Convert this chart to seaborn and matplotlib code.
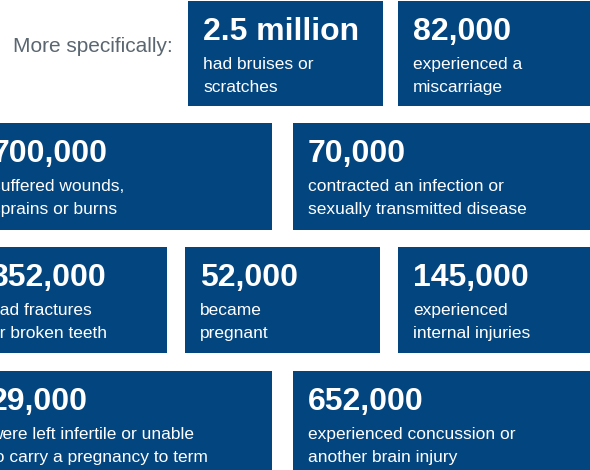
import matplotlib
matplotlib.use("Agg")
import matplotlib.pyplot as plt
import seaborn as sns

# Values shown in each tile
numbers = ["2.5 million", "82,000",
           "700,000", "70,000",
           "352,000", "52,000", "145,000",
           "29,000", "652,000"]
descriptions = [["had bruises or", "scratches"],
                ["experienced a", "miscarriage"],
                ["suffered wounds,", "sprains or burns"],
                ["contracted an infection or", "sexually transmitted disease"],
                ["had fractures", "or broken teeth"],
                ["became", "pregnant"],
                ["experienced", "internal injuries"],
                ["were left infertile or unable", "to carry a pregnancy to term"],
                ["experienced concussion or", "another brain injury"]]
intro = "More specifically:"

# Tile layout in pixels (left, right, top, bottom)
lefts = [188, 398, -23, 293, -25, 185, 398, -25, 293]
rights = [383, 600, 272, 600, 167, 380, 600, 272, 600]
tops = [1, 1, 123, 123, 247, 247, 247, 371, 371]
bottoms = [106, 106, 230, 230, 353, 353, 353, 480, 480]

blue = "#03457f"

sns.set_style("white")
plt.rcParams["font.family"] = ["Liberation Sans", "DejaVu Sans"]

fig = plt.figure(figsize=(5.9, 4.7), dpi=100)
ax = fig.add_axes([0, 0, 1, 1])
ax.set_xlim(0, 590)
ax.set_ylim(470, 0)
ax.axis("off")

widths = [r - l for l, r in zip(lefts, rights)]
heights = [b - t for t, b in zip(tops, bottoms)]
ax.bar(lefts, heights, width=widths, bottom=tops, align="edge",
       color=blue, linewidth=0)

for num, desc, l, t in zip(numbers, descriptions, lefts, tops):
    ax.text(l + 15, t + 39, num, color="white", fontsize=23,
            fontweight="bold", va="baseline", ha="left")
    # one text per line so each baseline sits where it should
    for i, line in enumerate(desc):
        ax.text(l + 15, t + 68 + 23 * i, line, color="white", fontsize=12.5,
                va="baseline", ha="left")

ax.text(13, 52, intro, color="#5b6670", fontsize=15,
        va="baseline", ha="left")

fig.savefig("out.png", dpi=100)
